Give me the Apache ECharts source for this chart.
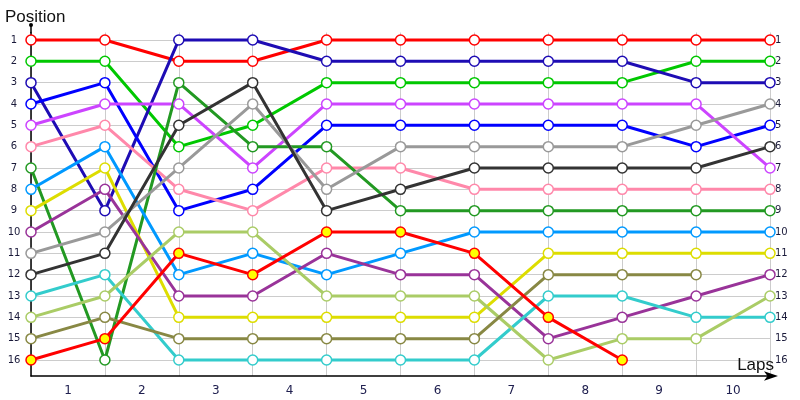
<!DOCTYPE html>
<html>
<head>
<meta charset="utf-8">
<script src="https://cdn.jsdelivr.net/npm/echarts@6/dist/echarts.min.js"></script>
<style>
html, body { margin: 0; padding: 0; background: #fff; }
#charts { width: 800px; height: 400px; }
</style>
</head>
<body>
<div id="charts"></div>
<script>
// lap labels (drawn between the points) and grid positions
var laps = ['1', '2', '3', '4', '5', '6', '7', '8', '9', '10'];
var positions = [1, 2, 3, 4, 5, 6, 7, 8, 9, 10, 11, 12, 13, 14, 15, 16];

// one array per driver, position at start and after each lap
var red      = [1, 1, 2, 2, 1, 1, 1, 1, 1, 1, 1];
var green    = [2, 2, 6, 5, 3, 3, 3, 3, 3, 2, 2];
var navy     = [3, 9, 1, 1, 2, 2, 2, 2, 2, 3, 3];
var blue     = [4, 3, 9, 8, 5, 5, 5, 5, 5, 6, 5];
var violet   = [5, 4, 4, 7, 4, 4, 4, 4, 4, 4, 7];
var pink     = [6, 5, 8, 9, 7, 7, 8, 8, 8, 8, 8];
var darkGreen = [7, 16, 3, 6, 6, 9, 9, 9, 9, 9, 9];
var skyBlue  = [8, 6, 12, 11, 12, 11, 10, 10, 10, 10, 10];
var yellow   = [9, 7, 14, 14, 14, 14, 14, 11, 11, 11, 11];
var purple   = [10, 8, 13, 13, 11, 12, 12, 15, 14, 13, 12];
var gray     = [11, 10, 7, 4, 8, 6, 6, 6, 6, 5, 4];
var black    = [12, 11, 5, 3, 9, 8, 7, 7, 7, 7, 6];
var cyan     = [13, 12, 16, 16, 16, 16, 16, 13, 13, 14, 14];
var lime     = [14, 13, 10, 10, 13, 13, 13, 16, 15, 15, 13];
var olive    = [15, 14, 15, 15, 15, 15, 15, 12, 12, 12];
var redYellow = [16, 15, 11, 12, 10, 10, 11, 14, 16];

var drivers = [
    [red, '#ff0000'], [green, '#00c800'], [navy, '#1e0cb4'], [blue, '#0000ff'],
    [violet, '#cc44ff'], [pink, '#ff88aa'], [darkGreen, '#229922'], [skyBlue, '#0099ff'],
    [yellow, '#dddd00'], [purple, '#993399'], [gray, '#999999'], [black, '#333333'],
    [cyan, '#33cccc'], [lime, '#aacc66'], [olive, '#888844'], [redYellow, '#ff0000']
];

var chart = echarts.init(document.getElementById('charts'));

var series = [];
for (var i = 0; i < drivers.length; i++) {
    var vals = drivers[i][0];
    var pts = [];
    for (var j = 0; j < vals.length; j++) {
        pts.push([j, vals[j]]);
    }
    series.push({
        type: 'line',
        data: pts,
        clip: false,
        symbol: 'circle',
        symbolSize: 10,
        lineStyle: { color: drivers[i][1], width: 3 },
        itemStyle: {
            color: i === 15 ? '#ffff00' : '#ffffff',
            borderColor: drivers[i][1],
            borderWidth: 1.5
        },
        emphasis: { disabled: true },
        animation: false
    });
}

var yBase = {
    type: 'value',
    inverse: true,
    min: 0.65,
    max: 16.75,
    axisTick: { show: false, customValues: positions }
};

var option = {
    animation: false,
    title: [{
        text: 'Position',
        left: 0,
        top: 4,
        textStyle: { fontFamily: 'Liberation Sans', fontSize: 17, fontWeight: 'normal', color: '#111' }
    }, {
        text: 'Laps',
        right: 21,
        top: 352,
        textStyle: { fontFamily: 'Liberation Sans', fontSize: 17, fontWeight: 'normal', color: '#111' }
    }],
    grid: { left: 31, right: 30, top: 32.5, bottom: 24, containLabel: false, outerBoundsMode: 'none' },
    xAxis: {
        type: 'value',
        min: 0,
        max: 10,
        interval: 1,
        axisLine: {
            lineStyle: { color: '#000', width: 1.5 },
            symbol: ['none', 'arrow'],
            symbolSize: [7, 14],
            symbolOffset: [0, 8]
        },
        axisTick: { show: false },
        splitLine: { show: true, lineStyle: { color: '#cccccc', width: 1 } },
        axisLabel: {
            customValues: laps.map(function (l, k) { return k + 0.5; }),
            formatter: function (v) { return laps[Math.floor(v)]; },
            fontFamily: 'DejaVu Sans',
            fontSize: 12,
            color: '#202050',
            margin: 9
        }
    },
    yAxis: [
        Object.assign({}, yBase, {
            position: 'left',
            axisLine: { show: true, lineStyle: { color: '#000', width: 1.5 } },
            splitLine: { show: true, lineStyle: { color: '#cccccc', width: 1 } },
            axisLabel: {
                customValues: positions,
                fontFamily: 'DejaVu Sans',
                fontSize: 10,
                color: '#1a1a3a',
                align: 'center',
                margin: 17
            }
        }),
        Object.assign({}, yBase, {
            position: 'right',
            axisLine: { show: false },
            splitLine: { show: false },
            axisLabel: {
                customValues: positions,
                fontFamily: 'DejaVu Sans',
                fontSize: 10,
                color: '#1a1a3a',
                align: 'left',
                margin: 5
            }
        })
    ],
    // little stub with a dot on top of the position axis
    graphic: [
        { type: 'line', shape: { x1: 31, y1: 25, x2: 31, y2: 33 }, style: { stroke: '#000', lineWidth: 1.5 } },
        { type: 'circle', shape: { cx: 31, cy: 25, r: 2 }, style: { fill: '#000' } }
    ],
    series: series
};

chart.setOption(option);
</script>
</body>
</html>
